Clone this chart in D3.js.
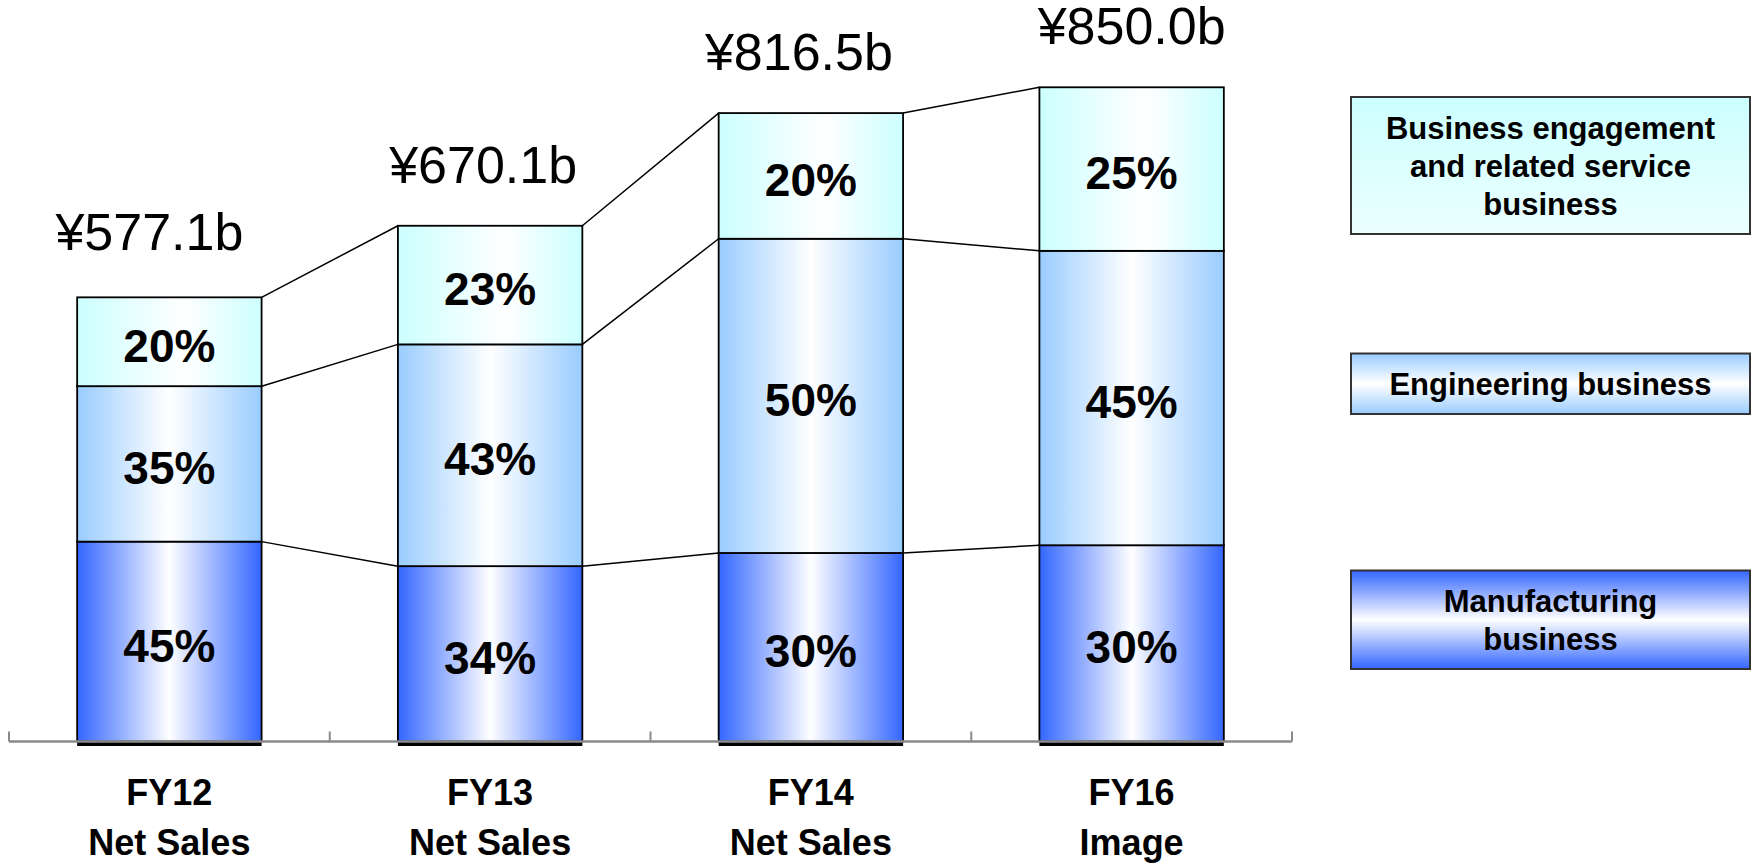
<!DOCTYPE html>
<html>
<head>
<meta charset="utf-8">
<script src="https://cdn.jsdelivr.net/npm/d3@7"></script>
<style>
  body { margin: 0; background: #fff; }
  text { font-family: "Liberation Sans", Arial, sans-serif; }
</style>
</head>
<body>
<div id="chart"></div>
<script>
// data
var categories = ["FY12", "FY13", "FY14", "FY16"];
var categorySub = ["Net Sales", "Net Sales", "Net Sales", "Image"];
var totals = [577.1, 670.1, 816.5, 850.0];
var totalLabels = ["¥577.1b", "¥670.1b", "¥816.5b", "¥850.0b"];
var manufacturing = [45, 34, 30, 30];
var engineering = [35, 43, 50, 45];
var businessEngagement = [20, 23, 20, 25];
var seriesKeys = ["manufacturing", "engineering", "business"];
var legendLines = [
  ["Manufacturing", "business"],
  ["Engineering business"],
  ["Business engagement", "and related service", "business"]
];

var width = 1754, height = 864;

var svg = d3.select("#chart")
  .append("svg")
    .attr("width", width)
    .attr("height", height);

// gradients
var defs = svg.append("defs");
var colors = {manufacturing: "#3366ff", engineering: "#99ccff", business: "#ccffff"};
var mids = {manufacturing: 0.5, engineering: 0.5, business: 0.58};
seriesKeys.forEach(function(k) {
  var g = defs.append("linearGradient").attr("id", "bar-" + k)
    .attr("x1", 0).attr("x2", 1).attr("y1", 0).attr("y2", 0);
  g.append("stop").attr("offset", 0).attr("stop-color", colors[k]);
  g.append("stop").attr("offset", mids[k]).attr("stop-color", "#ffffff");
  g.append("stop").attr("offset", 1).attr("stop-color", colors[k]);

  var lg = defs.append("linearGradient").attr("id", "leg-" + k)
    .attr("x1", 0).attr("x2", 0).attr("y1", 0).attr("y2", 1);
  lg.append("stop").attr("offset", 0).attr("stop-color", colors[k]);
  lg.append("stop").attr("offset", 0.5).attr("stop-color", k == "business" ? "#dcffff" : "#ffffff");
  lg.append("stop").attr("offset", 1).attr("stop-color", k == "business" ? "#ecffff" : colors[k]);
});

// scales
var x = d3.scaleBand()
  .domain(categories)
  .range([9, 1292])
  .paddingInner(0.425)
  .paddingOuter(0.2125);
var y = d3.scaleLinear()
  .domain([0, 850])
  .range([741.5, 87.3]);
var bw = x.bandwidth();

// stacked data (share of each year's total)
var rows = categories.map(function(c, i) {
  return {
    cat: c,
    manufacturing: totals[i] * manufacturing[i] / 100,
    engineering: totals[i] * engineering[i] / 100,
    business: totals[i] * businessEngagement[i] / 100,
    pct: {manufacturing: manufacturing[i], engineering: engineering[i], business: businessEngagement[i]}
  };
});
var stacked = d3.stack().keys(seriesKeys)(rows);

// connector lines between bars
for (var i = 0; i < categories.length - 1; i++) {
  stacked.forEach(function(layer) {
    svg.append("line")
      .attr("x1", x(categories[i]) + bw)
      .attr("y1", y(layer[i][1]))
      .attr("x2", x(categories[i + 1]))
      .attr("y2", y(layer[i + 1][1]))
      .attr("stroke", "#000")
      .attr("stroke-width", 1.5);
  });
}

// bars
stacked.forEach(function(layer) {
  var key = layer.key;
  svg.selectAll(".seg-" + key)
    .data(layer)
    .enter()
    .append("rect")
      .attr("x", function(d) { return x(d.data.cat); })
      .attr("y", function(d) { return y(d[1]); })
      .attr("width", bw)
      .attr("height", function(d) { return y(d[0]) - y(d[1]); })
      .attr("fill", "url(#bar-" + key + ")")
      .attr("stroke", "#000")
      .attr("stroke-width", 1.8);

  svg.selectAll(".pct-" + key)
    .data(layer)
    .enter()
    .append("text")
      .attr("x", function(d) { return x(d.data.cat) + bw / 2; })
      .attr("y", function(d) { return (y(d[0]) + y(d[1])) / 2 + 20; })
      .attr("text-anchor", "middle")
      .attr("font-size", 46)
      .attr("font-weight", "bold")
      .text(function(d) { return d.data.pct[key] + "%"; });
});

// thick bottom edge of each bar
svg.selectAll(".base")
  .data(categories)
  .enter()
  .append("rect")
    .attr("x", function(d) { return x(d); })
    .attr("y", y(0))
    .attr("width", bw)
    .attr("height", 4.5)
    .attr("fill", "#000");

// axis (ticks between categories)
var step = x.step();
var tickXs = categories.map(function(c) { return x(c) - (step - bw) / 2; });
tickXs.push(x.range()[1]);
svg.append("line")
  .attr("x1", x.range()[0]).attr("x2", x.range()[1])
  .attr("y1", y(0)).attr("y2", y(0))
  .attr("stroke", "#8a8a8a").attr("stroke-width", 2.5);
svg.selectAll(".tick")
  .data(tickXs)
  .enter()
  .append("line")
    .attr("x1", function(d) { return d; }).attr("x2", function(d) { return d; })
    .attr("y1", y(0)).attr("y2", y(0) - 10)
    .attr("stroke", "#8a8a8a").attr("stroke-width", 2);

// category labels
svg.selectAll(".cat")
  .data(categories)
  .enter()
  .append("text")
    .attr("x", function(d) { return x(d) + bw / 2; })
    .attr("y", 805)
    .attr("text-anchor", "middle")
    .attr("font-size", 36)
    .attr("font-weight", "bold")
    .text(function(d) { return d; });
svg.selectAll(".sub")
  .data(categorySub)
  .enter()
  .append("text")
    .attr("x", function(d, i) { return x(categories[i]) + bw / 2; })
    .attr("y", 855)
    .attr("text-anchor", "middle")
    .attr("font-size", 36)
    .attr("font-weight", "bold")
    .text(function(d) { return d; });

// total labels above bars
var labelNudge = [[-20, -47], [-7, -43], [-12, -43], [0, -43]];
svg.selectAll(".total")
  .data(totals)
  .enter()
  .append("text")
    .attr("x", function(d, i) { return x(categories[i]) + bw / 2 + labelNudge[i][0]; })
    .attr("y", function(d, i) { return y(d) + labelNudge[i][1]; })
    .attr("text-anchor", "middle")
    .attr("font-size", 52)
    .text(function(d, i) { return totalLabels[i]; });

// legend boxes
var legendBoxes = [
  {key: "manufacturing", y0: 570.5, y1: 669},
  {key: "engineering", y0: 353.5, y1: 414},
  {key: "business", y0: 97, y1: 234}
];
legendBoxes.forEach(function(b, i) {
  svg.append("rect")
    .attr("x", 1351).attr("y", b.y0)
    .attr("width", 399).attr("height", b.y1 - b.y0)
    .attr("fill", "url(#leg-" + b.key + ")")
    .attr("stroke", "#333").attr("stroke-width", 2);
  var lines = legendLines[i];
  var cy = (b.y0 + b.y1) / 2;
  lines.forEach(function(t, j) {
    svg.append("text")
      .attr("x", 1550.5)
      .attr("y", cy + (j - (lines.length - 1) / 2) * 38 + 11)
      .attr("text-anchor", "middle")
      .attr("font-size", 31)
      .attr("font-weight", "bold")
      .text(t);
  });
});
</script>
</body>
</html>
